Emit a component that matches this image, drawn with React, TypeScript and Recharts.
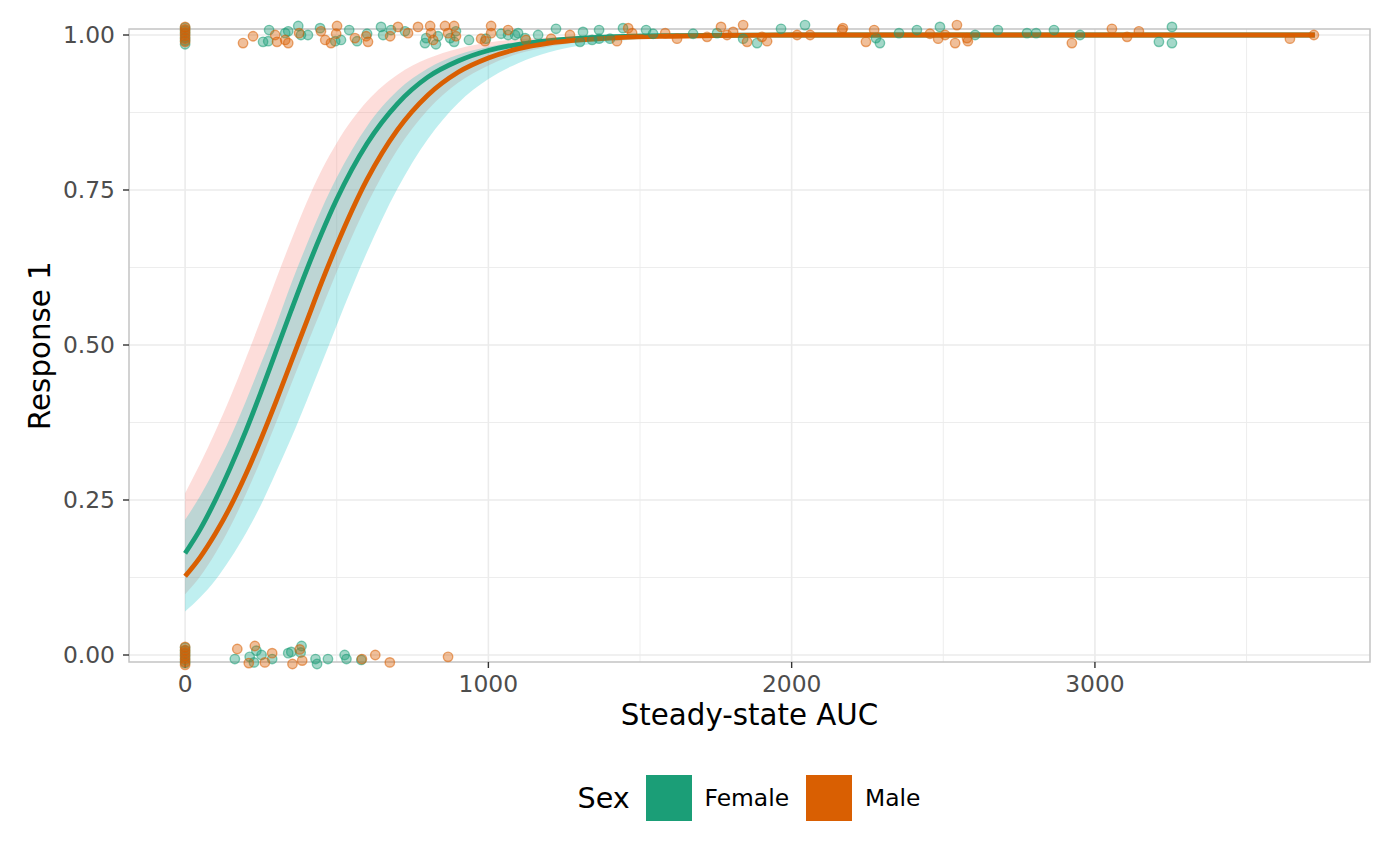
import {
  ComposedChart,
  Area,
  Line,
  Scatter,
  XAxis,
  YAxis,
  ReferenceLine,
  ReferenceArea,
} from "recharts";

// fitted curves at these AUC values
const aucGrid = [0, 50, 100, 150, 200, 250, 300, 350, 400, 450, 500, 600, 700, 800, 900, 1000, 1100, 1200, 1400, 1600, 1800, 2000, 2500, 3000, 3725];

const femaleFit = [0.164, 0.203, 0.25, 0.303, 0.361, 0.424, 0.49, 0.556, 0.62, 0.68, 0.735, 0.825, 0.889, 0.932, 0.958, 0.975, 0.985, 0.991, 0.997, 0.999, 0.9996, 1, 1, 1, 1];
const femaleLow = [0.098, 0.127, 0.164, 0.208, 0.259, 0.315, 0.375, 0.437, 0.498, 0.558, 0.618, 0.727, 0.815, 0.879, 0.923, 0.951, 0.97, 0.981, 0.993, 0.997, 0.999, 0.9997, 1, 1, 1];
const femaleHigh = [0.261, 0.309, 0.361, 0.417, 0.478, 0.541, 0.606, 0.669, 0.729, 0.782, 0.826, 0.893, 0.936, 0.962, 0.978, 0.988, 0.993, 0.996, 0.999, 0.9996, 0.9999, 1, 1, 1, 1];

const maleFit = [0.127, 0.158, 0.196, 0.24, 0.291, 0.348, 0.409, 0.473, 0.537, 0.601, 0.661, 0.767, 0.847, 0.903, 0.94, 0.963, 0.978, 0.987, 0.995, 0.998, 0.9994, 1, 1, 1, 1];
const maleLow = [0.07, 0.093, 0.121, 0.156, 0.196, 0.242, 0.295, 0.35, 0.409, 0.47, 0.532, 0.65, 0.752, 0.832, 0.89, 0.929, 0.955, 0.972, 0.989, 0.996, 0.998, 0.9995, 1, 1, 1];
const maleHigh = [0.218, 0.257, 0.302, 0.352, 0.409, 0.47, 0.532, 0.599, 0.661, 0.719, 0.77, 0.853, 0.91, 0.946, 0.968, 0.981, 0.989, 0.994, 0.998, 0.9993, 0.9998, 1, 1, 1, 1];

// jittered observations [AUC, response]
const femaleObs: [number, number][] = [
  [0, 1.012], [0, 1.007], [0, 1.002], [0, 0.996], [0, 0.991], [0, 0.985],
  [257, 0.989], [274, 0.99], [277, 1.008], [330, 1.003], [340, 1.006], [373, 1.0145], [382, 1.0], [405, 1.0],
  [445, 1.011], [495, 0.99], [514, 0.992], [541, 1.008], [567, 0.99], [600, 1.002], [646, 1.013], [653, 1.0],
  [679, 1.008], [725, 1.006], [791, 0.987], [795, 0.995], [827, 0.985], [834, 0.998], [874, 0.995], [887, 0.989],
  [893, 1.006], [936, 0.992], [992, 0.994], [1042, 1.002], [1065, 1.0], [1088, 1.0], [1098, 1.003], [1121, 0.995],
  [1164, 1.0], [1223, 1.01], [1312, 1.005], [1302, 0.989], [1342, 0.992], [1365, 1.008], [1365, 0.994], [1401, 0.994],
  [1444, 1.011], [1520, 1.008], [1543, 1.002], [1675, 1.002], [1754, 1.003], [1840, 0.994], [1886, 0.987], [1965, 1.01],
  [2044, 1.016], [2278, 0.995], [2291, 0.987], [2354, 1.003], [2413, 1.008], [2489, 1.013], [2605, 1.0], [2680, 1.008],
  [2776, 1.003], [2806, 1.003], [2865, 1.008], [2951, 1.0], [3211, 0.989], [3254, 1.013], [3254, 0.987],
  [0, 0.012], [0, 0.007], [0, 0.002], [0, -0.003], [0, -0.008], [0, -0.013],
  [164, -0.0065], [213, -0.003], [235, 0.007], [227, -0.012], [252, 0], [287, -0.0065], [340, 0.003], [350, 0.005],
  [384, 0.0145], [381, 0.004], [430, -0.0065], [435, -0.0145], [471, -0.0065], [526, 0], [532, -0.0065], [581, -0.008],
];

const maleObs: [number, number][] = [
  [0, 1.013], [0, 1.009], [0, 1.004], [0, 0.999], [0, 0.994], [0, 0.989],
  [191, 0.987], [224, 0.998], [297, 1.0], [303, 0.989], [330, 0.992], [340, 0.987], [376, 1.003], [448, 1.006],
  [462, 0.992], [481, 0.987], [498, 1.002], [501, 1.0145], [560, 0.995], [597, 0.998], [603, 0.989], [676, 0.998],
  [702, 1.013], [735, 1.003], [768, 1.013], [808, 1.0145], [811, 1.003], [818, 0.992], [857, 1.0145], [867, 1.003],
  [887, 1.0145], [893, 0.998], [976, 0.994], [989, 0.99], [1009, 1.0145], [1009, 1.003], [1065, 1.008], [1124, 0.992],
  [1207, 0.994], [1269, 1.0], [1424, 0.99], [1461, 1.011], [1474, 1.003], [1583, 1.003], [1622, 0.994], [1721, 0.997],
  [1767, 1.013], [1787, 1.0], [1807, 1.005], [1840, 1.016], [1853, 0.989], [1902, 0.997], [1919, 0.99], [2018, 1.0],
  [2061, 1.0], [2166, 1.008], [2169, 1.011], [2245, 0.989], [2272, 1.008], [2456, 1.002], [2483, 0.994], [2506, 1.0],
  [2539, 0.987], [2545, 1.016], [2578, 0.995], [2581, 0.99], [2924, 0.987], [3056, 1.01], [3106, 0.997], [3145, 1.006],
  [3643, 0.994], [3722, 1.0],
  [0, 0.013], [0, 0.008], [0, 0.004], [0, -0.001], [0, -0.006], [0, -0.011], [0, -0.016],
  [172, 0.0097], [210, -0.013], [230, 0.0145], [263, -0.012], [287, 0.003], [354, -0.0145], [378, 0.009], [386, -0.009],
  [583, -0.0065], [627, 0], [675, -0.012], [867, -0.003],
];

const xTicks = [0, 1000, 2000, 3000];
const xMinor = [500, 1500, 2500, 3500];
const yTicks = [0, 0.25, 0.5, 0.75, 1];
const yMinor = [0.125, 0.375, 0.625, 0.875];

const GREEN = "#1B9E77";
const ORANGE = "#D95F02";
const X0 = -185;
const X1 = 3907;
const Y0 = -0.0113;
const Y1 = 1.0097;

const curveRows = aucGrid.map((auc, i) => ({
  auc,
  femaleFit: femaleFit[i],
  maleFit: maleFit[i],
  femaleBand: [femaleLow[i], femaleHigh[i]],
  maleBand: [maleLow[i], maleHigh[i]],
}));

const femalePts = femaleObs.map(([auc, resp]) => ({ auc, resp }));
const malePts = maleObs.map(([auc, resp]) => ({ auc, resp }));

const dot = (color: string) => (p: any) => (
  <circle cx={p.cx} cy={p.cy} r={4.7} fill={color} fillOpacity={0.4} stroke={color} strokeOpacity={0.55} strokeWidth={1.4} />
);

export default function App() {
  return (
    <div
      style={{
        position: "absolute",
        left: 0,
        top: 0,
        width: 1400,
        height: 865,
        background: "#fff",
        fontFamily: "'DejaVu Sans', sans-serif",
      }}
    >
      <ComposedChart width={1400} height={865} data={curveRows} margin={{ top: 22.6, right: 30, bottom: 126.36, left: 0 }}>
        {xTicks.map((v) => (
          <ReferenceLine key={"gx" + v} segment={[{ x: v, y: Y0 }, { x: v, y: Y1 }]} stroke="#EBEBEB" strokeWidth={1.6} ifOverflow="visible" zIndex={-100} />
        ))}
        {xMinor.map((v) => (
          <ReferenceLine key={"mx" + v} segment={[{ x: v, y: Y0 }, { x: v, y: Y1 }]} stroke="#EBEBEB" strokeWidth={0.9} ifOverflow="visible" zIndex={-100} />
        ))}
        {yTicks.map((v) => (
          <ReferenceLine key={"gy" + v} segment={[{ x: X0, y: v }, { x: X1, y: v }]} stroke="#EBEBEB" strokeWidth={1.6} ifOverflow="visible" zIndex={-100} />
        ))}
        {yMinor.map((v) => (
          <ReferenceLine key={"my" + v} segment={[{ x: X0, y: v }, { x: X1, y: v }]} stroke="#EBEBEB" strokeWidth={0.9} ifOverflow="visible" zIndex={-100} />
        ))}

        <XAxis
          dataKey="auc"
          type="number"
          domain={[X0, X1]}
          ticks={xTicks}
          interval={0}
          axisLine={false}
          tickLine={false}
          tickMargin={0.8}
          height={70}
          tick={{ fontSize: 23.4, fill: "#4D4D4D" }}
          label={{ value: "Steady-state AUC", position: "insideBottom", offset: 13.6, style: { fontSize: 29.3, fill: "#000" } }}
        />
        <YAxis
          type="number"
          domain={[-0.022, 1.02]}
          ticks={yTicks}
          interval={0}
          width={129}
          axisLine={false}
          tickLine={{ stroke: "#333333", strokeWidth: 1.4 }}
          tickSize={6}
          tickMargin={8}
          tickFormatter={(v: number) => v.toFixed(2)}
          tick={{ fontSize: 23.4, fill: "#4D4D4D" }}
          label={{ value: "Response 1", angle: -90, position: "insideLeft", offset: 40, style: { textAnchor: "middle", fontSize: 29.3, fill: "#000" } }}
        />

        <Area dataKey="femaleBand" type="monotone" stroke="none" fill="#F8766D" fillOpacity={0.25} isAnimationActive={false} />
        <Area dataKey="maleBand" type="monotone" stroke="none" fill="#00BFC4" fillOpacity={0.25} isAnimationActive={false} />
        <Line dataKey="femaleFit" type="monotone" stroke={GREEN} strokeWidth={4.8} dot={false} activeDot={false} isAnimationActive={false} />
        <Line dataKey="maleFit" type="monotone" stroke={ORANGE} strokeWidth={4.8} dot={false} activeDot={false} isAnimationActive={false} />

        <ReferenceArea x1={X0} x2={X1} y1={Y0} y2={Y1} fill="none" fillOpacity={0} stroke="#C4C4C4" strokeWidth={1.5} ifOverflow="visible" zIndex={450} />
        {xTicks.map((v) => (
          <ReferenceLine key={"tx" + v} segment={[{ x: v, y: Y0 }, { x: v, y: -0.021 }]} stroke="#333333" strokeWidth={1.4} ifOverflow="visible" zIndex={500} />
        ))}

        <Scatter data={femalePts} dataKey="resp" shape={dot(GREEN)} isAnimationActive={false} />
        <Scatter data={malePts} dataKey="resp" shape={dot(ORANGE)} isAnimationActive={false} />
      </ComposedChart>

      <span style={{ position: "absolute", left: 577.5, top: 784.1, fontSize: 28.6, lineHeight: 1, color: "#000", whiteSpace: "nowrap" }}>Sex</span>
      <div style={{ position: "absolute", left: 646, top: 775, width: 46, height: 46, background: GREEN }} />
      <span style={{ position: "absolute", left: 704.5, top: 786.9, fontSize: 23.4, lineHeight: 1, color: "#000", whiteSpace: "nowrap" }}>Female</span>
      <div style={{ position: "absolute", left: 806, top: 775, width: 46, height: 46, background: ORANGE }} />
      <span style={{ position: "absolute", left: 865, top: 786.9, fontSize: 23.4, lineHeight: 1, color: "#000", whiteSpace: "nowrap" }}>Male</span>
    </div>
  );
}
